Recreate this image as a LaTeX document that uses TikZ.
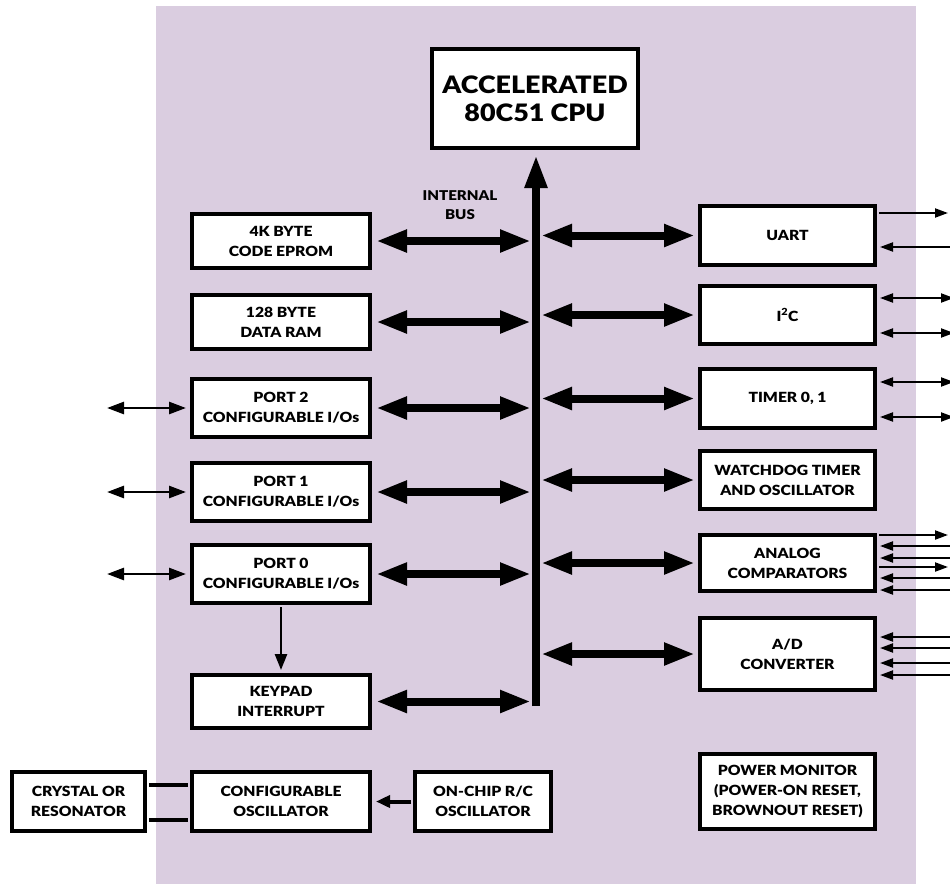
\documentclass[tikz,border=0pt]{standalone}
\usepackage{fontspec}
\setmainfont{Lato}[BoldFont={Lato Black}, FakeStretch=1.12]
\usetikzlibrary{arrows.meta,calc}
\definecolor{bgpurple}{RGB}{218,205,224}
\begin{document}
\begin{tikzpicture}[x=1pt,y=-1pt,
  box/.style={draw, line width=4pt, fill=white, align=center, inner sep=0pt,
    font=\bfseries\fontsize{14}{20}\selectfont},
  lbox/.style={box, minimum width=178pt},
  rbox/.style={box, minimum width=175pt},
  busarrow/.style={line width=8pt, {Triangle[length=31pt,width=21pt]}-{Triangle[length=31pt,width=21pt]}},
  portarrow/.style={line width=2.6pt, {Triangle[length=17pt,width=12pt]}-{Triangle[length=17pt,width=12pt]}},
  extout/.style={line width=2pt, -{Triangle[length=13pt,width=9pt]}},
  extin/.style={line width=2pt, {Triangle[length=13pt,width=9pt]}-},
  extbi/.style={line width=2pt, {Triangle[length=13pt,width=9pt]}-{Triangle[length=13pt,width=9pt]}},
  lbl/.style={font=\bfseries\fontsize{13.5}{19}\selectfont, align=center, inner sep=0pt}]
\useasboundingbox (0,0) rectangle (950,884);
\fill[bgpurple] (156,6) rectangle (916,884);

% CPU
\node[box, minimum width=206pt, minimum height=99pt,
  font=\bfseries\fontsize{24}{28}\selectfont] (cpu) at (535,98.5) {ACCELERATED\\80C51 CPU};

% bus
\coordinate (busbot) at (536,706);
\coordinate (bustop) at (536,155);
\draw[line width=8pt, -{Triangle[length=33pt,width=21pt]}] (busbot) -- (bustop);
\node[lbl] (buslabel) at (460,205) {INTERNAL\\BUS};

% left column
\node[lbox, minimum height=54pt] (rom) at (281,241) {4K BYTE\\CODE EPROM};
\node[lbox, minimum height=54pt] (ram) at (281,322) {128 BYTE\\DATA RAM};
\node[lbox, minimum height=58pt] (port2) at (281,408) {PORT 2\\CONFIGURABLE I/Os};
\node[lbox, minimum height=58pt] (port1) at (281,492) {PORT 1\\CONFIGURABLE I/Os};
\node[lbox, minimum height=58pt] (port0) at (281,574) {PORT 0\\CONFIGURABLE I/Os};
\node[lbox, minimum height=53pt] (keypad) at (281,701.5) {KEYPAD\\INTERRUPT};

% bottom row
\node[box, minimum width=133pt, minimum height=59pt] (crystal) at (78.5,801.5) {CRYSTAL OR\\RESONATOR};
\node[lbox, minimum height=59pt] (osc) at (281,801.5) {CONFIGURABLE\\OSCILLATOR};
\node[box, minimum width=136pt, minimum height=59pt] (rc) at (483,801.5) {ON-CHIP R/C\\OSCILLATOR};

% right column
\node[rbox, minimum height=59pt] (uart) at (787.5,235.5) {UART};
\node[rbox, minimum height=58pt] (iic) at (787.5,315) {I\textsuperscript{2}C};
\node[rbox, minimum height=59pt] (timer) at (787.5,398.5) {TIMER 0, 1};
\node[rbox, minimum height=58pt] (wdt) at (787.5,480) {WATCHDOG TIMER\\AND OSCILLATOR};
\node[rbox, minimum height=56pt] (acomp) at (787.5,563) {ANALOG\\COMPARATORS};
\node[rbox, minimum height=72pt] (adc) at (787.5,654) {A/D\\CONVERTER};
\node[rbox, minimum height=75pt] (pmon) at (787.5,791.5) {POWER MONITOR\\(POWER-ON RESET,\\BROWNOUT RESET)};

% bus arrows, left
\foreach \n in {rom,ram,port2,port1,port0,keypad}
  \draw[busarrow] ($(\n.east)+(4,0)$) -- ($(\n.east -| busbot)+(-5,0)$);
% bus arrows, right
\foreach \n in {uart,iic,timer,wdt,acomp,adc}
  \draw[busarrow] ($(\n.west -| busbot)+(5,0)$) -- ($(\n.west)+(-3,0)$);

% port external arrows
\foreach \n in {port2,port1,port0}
  \draw[portarrow] ($(\n.west)+(-4,0)$) -- ++(-79,0);

% keypad from port 0
\draw[line width=2.6pt, -{Triangle[length=16pt,width=12pt]}] ($(port0.south)+(0,2)$) -- ($(keypad.north)+(0,-3)$);

% crystal to oscillator
\draw[line width=4pt] ($(crystal.east)+(2,-16.5)$) -- ($(osc.west)+(-2,-16.5)$);
\draw[line width=4pt] ($(crystal.east)+(2,18.5)$) -- ($(osc.west)+(-2,18.5)$);
\draw[line width=4pt, -{Triangle[length=14pt,width=12pt]}] ($(rc.west)+(-2,0)$) -- ($(osc.east)+(4,0)$);

% UART external
\draw[extout] ($(uart.east)+(2,-22.5)$) -- ++(69,0);
\draw[extin] ($(uart.east)+(3,11.5)$) -- ++(71,0);
% I2C
\draw[extbi] ($(iic.east)+(3,-17)$) -- ++(74,0);
\draw[extbi] ($(iic.east)+(3,18)$) -- ++(74,0);
% Timer
\draw[extbi] ($(timer.east)+(3,-16.5)$) -- ++(74,0);
\draw[extbi] ($(timer.east)+(3,18.5)$) -- ++(74,0);
% analog comparators
\draw[extout] ($(acomp.east)+(2,-28)$) -- ++(69,0);
\draw[extin] ($(acomp.east)+(3,-17)$) -- ++(71,0);
\draw[extin] ($(acomp.east)+(3,-5)$) -- ++(71,0);
\draw[extout] ($(acomp.east)+(2,4)$) -- ++(69,0);
\draw[extin] ($(acomp.east)+(3,15)$) -- ++(71,0);
\draw[extin] ($(acomp.east)+(3,27)$) -- ++(71,0);
% A/D
\draw[extin] ($(adc.east)+(3,-17)$) -- ++(71,0);
\draw[extin] ($(adc.east)+(3,-6)$) -- ++(71,0);
\draw[extin] ($(adc.east)+(3,9)$) -- ++(71,0);
\draw[extin] ($(adc.east)+(3,21)$) -- ++(71,0);
\end{tikzpicture}
\end{document}
